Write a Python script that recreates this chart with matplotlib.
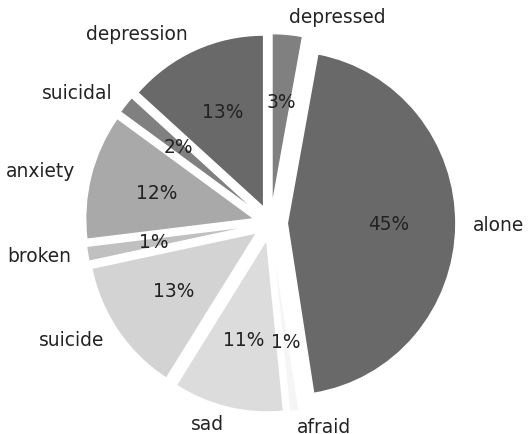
import matplotlib
matplotlib.use("Agg")
import matplotlib.pyplot as plt

# word frequencies (share of posts, %)
labels = ["depressed", "alone", "afraid", "sad", "suicide",
          "broken", "anxiety", "suicidal", "depression"]
shares = [2.9, 44.6, 0.9, 10.6, 12.7, 1.4, 11.8, 1.7, 13.4]
colors = ["gray", "dimgray", "whitesmoke", "gainsboro", "lightgray",
          "silver", "darkgray", "gray", "dimgray"]

fig = plt.figure(figsize=(5.28, 4.34), dpi=100)
ax = fig.add_axes([0.1134, -0.0098, 0.7978, 0.9919])

wedges, texts, autotexts = ax.pie(
    shares,
    labels=labels,
    colors=colors,
    explode=[0.1] * len(shares),
    autopct="%1.0f%%",
    startangle=90,
    counterclock=False,
    wedgeprops={"edgecolor": "white", "linewidth": 1},
    textprops={"fontsize": 13.4, "color": "#222222"},
)
# fill the axes box (slightly taller than wide)
ax.set_aspect("auto")
ax.set_xlim(-1.25, 1.25)
ax.set_ylim(-1.25, 1.25)

fig.savefig("out.png", dpi=100)
